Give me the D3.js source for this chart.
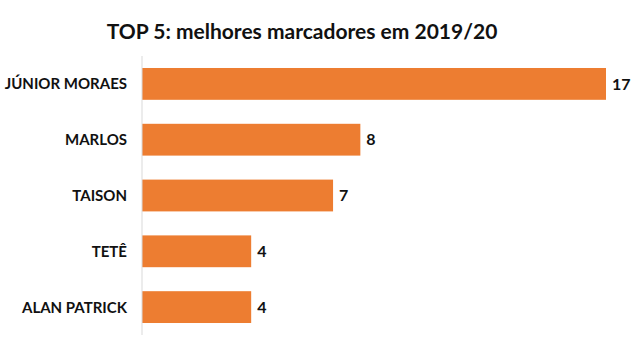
<!DOCTYPE html>
<html><head><meta charset="utf-8">
<script src="https://cdn.jsdelivr.net/npm/d3@7"></script>
<style>body{margin:0;background:#fff}svg{display:block}</style>
</head><body>
<svg id="c" width="640" height="360"></svg>
<script>
const players = ["JÚNIOR MORAES","MARLOS","TAISON","TETÊ","ALAN PATRICK"];
const goals = [17,8,7,4,4];
const title = "TOP 5: melhores marcadores em 2019/20";

const svg = d3.select("#c");
const font = "Lato, 'Open Sans', sans-serif";
const x = d3.scaleLinear().domain([0,17]).range([142,606]);
const y = d3.scaleBand().domain(players).range([56,335]).paddingInner(0.43).paddingOuter(0.215);

svg.append("text").attr("x",302).attr("y",39).attr("text-anchor","middle")
  .attr("font-family",font).attr("font-weight","bold").attr("font-size",21)
  .attr("fill","#111").text(title);

svg.selectAll("rect.bar").data(players).join("rect").attr("class","bar")
  .attr("x",x(0)).attr("y",d=>y(d)).attr("height",y.bandwidth())
  .attr("width",(d,i)=>x(goals[i])-x(0)).attr("fill","#ED7D31");

svg.append("line").attr("x1",x(0)).attr("x2",x(0)).attr("y1",56).attr("y2",335)
  .attr("stroke","#d9d9d9").attr("stroke-width",1);

svg.selectAll("text.cat").data(players).join("text").attr("class","cat")
  .attr("x",127).attr("y",d=>y(d)+y.bandwidth()/2).attr("dy","0.36em")
  .attr("text-anchor","end").attr("font-family",font).attr("font-weight","bold")
  .attr("font-size",15).attr("fill","#111").text(d=>d);

svg.selectAll("text.val").data(players).join("text").attr("class","val")
  .attr("x",(d,i)=>x(goals[i])+6).attr("y",d=>y(d)+y.bandwidth()/2).attr("dy","0.36em")
  .attr("font-family",font).attr("font-weight","bold")
  .attr("font-size",16).attr("fill","#111").text((d,i)=>goals[i]);
</script>
</body></html>
